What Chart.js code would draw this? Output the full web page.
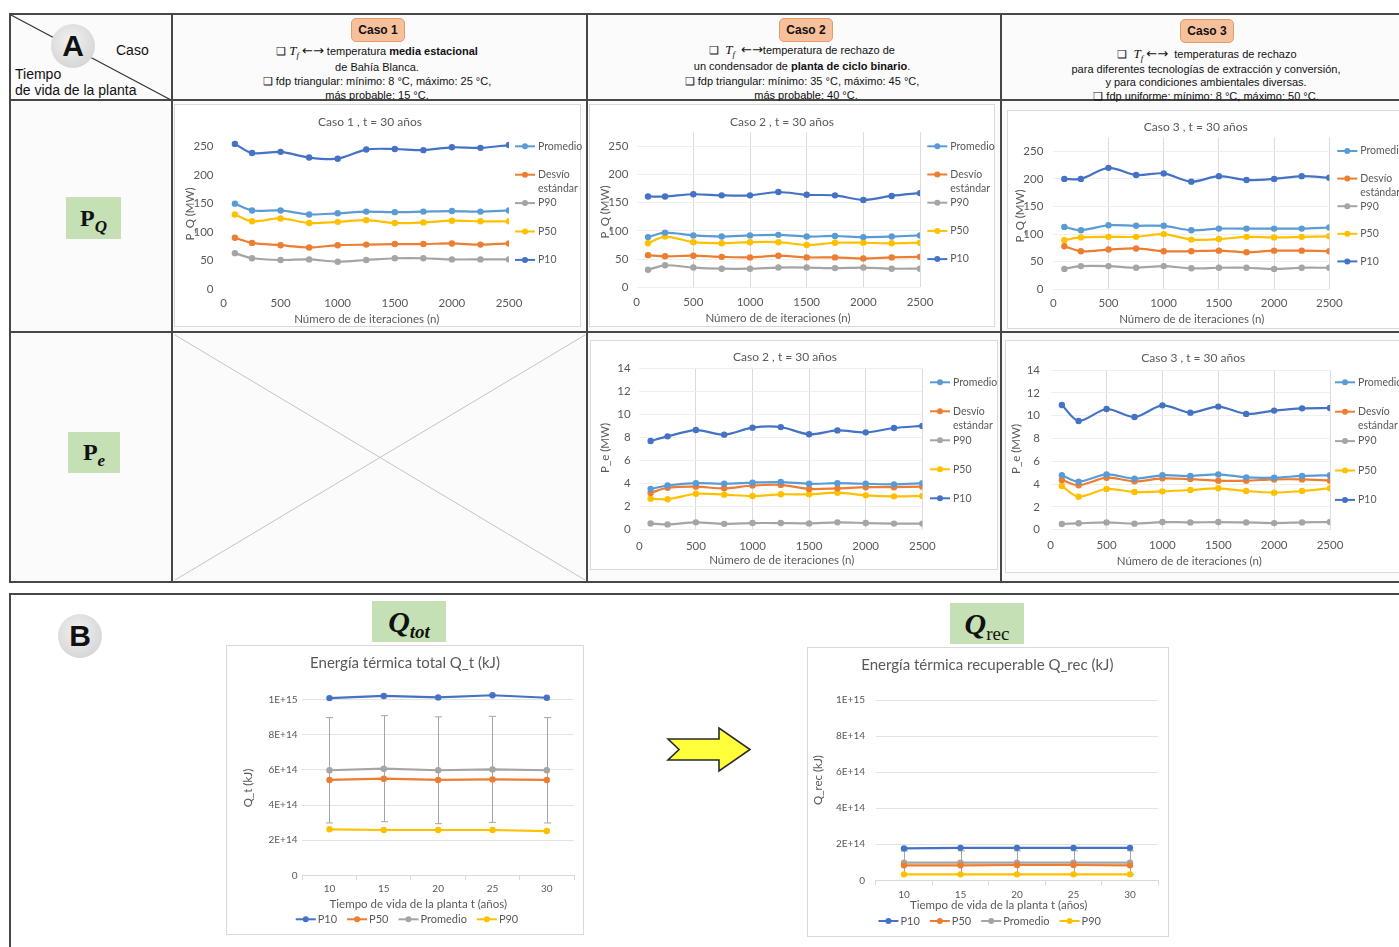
<!DOCTYPE html>
<html lang="es">
<head>
<meta charset="utf-8">
<title>Convergencia de P_Q, P_e y energía térmica</title>
<script src="https://cdn.jsdelivr.net/npm/chart.js@4.4.1/dist/chart.umd.min.js"></script>
<style>
  html, body { margin: 0; padding: 0; background: #fff; }
  body { width: 1399px; height: 947px; overflow: hidden; position: relative;
         font-family: "Liberation Sans", Arial, sans-serif; color: #111; }
  .ln { position: absolute; background: #474747; }
  .txt { position: absolute; transform: translate(-50%, -50%); white-space: nowrap; font-size: 11px; line-height: 1; }
  .lt { position: absolute; transform: translateY(-50%); white-space: nowrap; font-size: 14px; line-height: 1; }
  .m { font-family: "Liberation Serif", serif; font-style: italic; font-size: 13px; }
  .m sub { font-size: 9px; }
  .ar { font-family: "DejaVu Sans", sans-serif; font-size: 13px; line-height: 1; }
  .caso { position: absolute; width: 54px; height: 24px; box-sizing: border-box; background: #f6c09b;
          border: 1px solid #e39c6c; border-radius: 5px; font: bold 12px "Liberation Sans", Arial, sans-serif;
          display: flex; align-items: center; justify-content: center; }
  .circ { position: absolute; width: 44px; height: 44px; border-radius: 50%;
          background: radial-gradient(circle at 45% 40%, #f2f2f2, #d6d6d6 75%, #c8c8c8);
          display: flex; align-items: center; justify-content: center;
          font: bold 30px "Liberation Sans", Arial, sans-serif; color: #111; }
  .verde { position: absolute; background: #c5e0b4; display: flex; align-items: center; justify-content: center;
           font-family: "Liberation Serif", serif; color: #111; }
  .verde sub { line-height: 0; vertical-align: -0.3em; }
  .cell { position: absolute; background: #fbfbfb; }
</style>
</head>
<body>

<!-- fondo de las celdas del panel A -->
<div class="cell" style="left:10px;top:14px;width:1389px;height:568px"></div>

<!-- panel A: cuadrícula de la tabla -->
<div class="ln" style="left:10px;top:13px;width:1389px;height:2px"></div>
<div class="ln" style="left:9px;top:13px;width:2px;height:570px"></div>
<div class="ln" style="left:10px;top:99px;width:1389px;height:1.5px"></div>
<div class="ln" style="left:10px;top:331px;width:1389px;height:1.5px"></div>
<div class="ln" style="left:10px;top:581px;width:1389px;height:2px"></div>
<div class="ln" style="left:171px;top:14px;width:1.5px;height:568px"></div>
<div class="ln" style="left:586px;top:14px;width:1.5px;height:568px"></div>
<div class="ln" style="left:1000px;top:14px;width:1.5px;height:568px"></div>

<svg width="1399" height="947" style="position:absolute;left:0;top:0">
  <line x1="11" y1="15" x2="171" y2="100" stroke="#333" stroke-width="1.2"/>
  <line x1="175" y1="335" x2="585" y2="580" stroke="#c4c4c4" stroke-width="1"/>
  <line x1="585" y1="335" x2="175" y2="580" stroke="#c4c4c4" stroke-width="1"/>
  <polygon points="668,739 719,739 719,728 750,749.5 719,771 719,760 668,760 679,749.5"
           fill="#ffff3c" stroke="#2a2a2a" stroke-width="1.6" stroke-linejoin="miter"/>
</svg>

<!-- esquina: Caso / Tiempo de vida de la planta -->
<div class="circ" style="left:51px;top:24px">A</div>
<div class="lt" style="left:116px;top:50px">Caso</div>
<div class="lt" style="left:15px;top:74px">Tiempo</div>
<div class="lt" style="left:15px;top:90px">de vida de la planta</div>

<!-- encabezados de los casos -->
<div class="caso" style="left:351px;top:18px">Caso 1</div>
<div class="txt" style="left:377px;top:52px">❑ <span class="m">T<sub>f</sub></span> <span class="ar">←→</span> temperatura <b>media estacional</b></div>
<div class="txt" style="left:377px;top:67px">de Bahía Blanca.</div>
<div class="txt" style="left:377px;top:81px">❑ fdp triangular: mínimo: 8 °C, máximo: 25 °C,</div>
<div class="txt" style="left:377px;top:95px">más probable: 15 °C.</div>

<div class="caso" style="left:779px;top:18px">Caso 2</div>
<div class="txt" style="left:802px;top:51px">❑ &nbsp;<span class="m">T<sub>f</sub></span> &nbsp;<span class="ar">←→</span>temperatura de rechazo de</div>
<div class="txt" style="left:802px;top:66px">un condensador de <b>planta de ciclo binario</b>.</div>
<div class="txt" style="left:802px;top:81px">❑ fdp triangular: mínimo: 35 °C, máximo: 45 °C,</div>
<div class="txt" style="left:806px;top:95px">más probable: 40 °C.</div>

<div class="caso" style="left:1180px;top:19px">Caso 3</div>
<div class="txt" style="left:1207px;top:55px">❑ &nbsp;<span class="m">T<sub>f</sub></span> <span class="ar">←→</span> &nbsp;temperaturas de rechazo</div>
<div class="txt" style="left:1206px;top:69px">para diferentes tecnologías de extracción y conversión,</div>
<div class="txt" style="left:1206px;top:82px">y para condiciones ambientales diversas.</div>
<div class="txt" style="left:1206px;top:96px">❑ fdp uniforme: mínimo: 8 °C, máximo: 50 °C.</div>

<!-- rótulos de fila -->
<div class="verde" style="left:66px;top:197px;width:55px;height:42px;font-size:24px;font-weight:bold"><span>P<sub><i style="font-size:17px">Q</i></sub></span></div>
<div class="verde" style="left:68px;top:432px;width:52px;height:41px;font-size:24px;font-weight:bold"><span>P<sub><i style="font-size:17px">e</i></sub></span></div>

<!-- panel B -->
<div class="ln" style="left:10px;top:593px;width:1389px;height:2px"></div>
<div class="ln" style="left:9px;top:593px;width:2px;height:354px"></div>
<div class="circ" style="left:58px;top:614px">B</div>
<div class="verde" style="left:372px;top:601px;width:74px;height:41px;font-size:30px;font-weight:bold;font-style:italic"><span>Q<sub style="font-size:19px">tot</sub></span></div>
<div class="verde" style="left:950px;top:603px;width:74px;height:41px;font-size:30px;font-weight:bold"><span><i>Q</i><sub style="font-size:19px;font-weight:normal">rec</sub></span></div>

<script>
// ---------- Panel A: convergencia según número de iteraciones ----------
const iteraciones = [100, 250, 500, 750, 1000, 1250, 1500, 1750, 2000, 2250, 2500];
const ticksIteraciones = [0, 500, 1000, 1500, 2000, 2500];
const ticksPQ = [0, 50, 100, 150, 200, 250];
const ticksPe = [0, 2, 4, 6, 8, 10, 12, 14];
const etiquetasA = ['Promedio', 'Desvío estándar', 'P90', 'P50', 'P10'];
const coloresA = ['#5B9BD5', '#ED7D31', '#A5A5A5', '#FFC000', '#4472C4'];

// Caso 1, P_Q (MW)
const c1PQ_promedio = [150, 138, 138, 131, 133, 136, 135, 136, 137, 136, 138];
const c1PQ_desvio   = [90, 81, 77, 73, 77, 78, 79, 79, 80, 78, 80];
const c1PQ_p90      = [63, 54, 51, 52, 48, 51, 54, 54, 52, 52, 52];
const c1PQ_p50      = [131, 119, 124, 116, 118, 121, 116, 117, 120, 119, 119];
const c1PQ_p10      = [255, 239, 241, 231, 229, 245, 246, 244, 249, 248, 253];

// Caso 2, P_Q (MW)
const c2PQ_promedio = [89, 97, 92, 90, 92, 93, 90, 91, 89, 90, 92];
const c2PQ_desvio   = [57, 55, 56, 54, 53, 56, 53, 53, 51, 53, 54];
const c2PQ_p90      = [31, 39, 35, 33, 33, 35, 35, 34, 35, 33, 33];
const c2PQ_p50      = [78, 90, 80, 78, 80, 80, 75, 79, 79, 78, 79];
const c2PQ_p10      = [161, 161, 165, 163, 163, 169, 164, 163, 155, 162, 167];

// Caso 3, P_Q (MW)
const c3PQ_promedio = [113, 107, 116, 115, 115, 107, 110, 110, 110, 110, 112];
const c3PQ_desvio   = [78, 69, 72, 74, 69, 69, 70, 67, 70, 70, 69];
const c3PQ_p90      = [37, 42, 42, 39, 42, 38, 39, 39, 37, 39, 39];
const c3PQ_p50      = [89, 94, 95, 95, 100, 90, 91, 95, 94, 95, 96];
const c3PQ_p10      = [200, 200, 220, 207, 210, 195, 205, 198, 200, 205, 202];

// Caso 2, P_e (MW)
const c2Pe_promedio = [3.5, 3.8, 4.0, 3.95, 4.05, 4.1, 3.95, 4.0, 3.95, 3.9, 4.0];
const c2Pe_desvio   = [3.15, 3.6, 3.7, 3.55, 3.8, 3.85, 3.5, 3.55, 3.65, 3.65, 3.7];
const c2Pe_p90      = [0.49, 0.4, 0.58, 0.45, 0.52, 0.52, 0.49, 0.58, 0.52, 0.47, 0.47];
const c2Pe_p50      = [2.65, 2.6, 3.08, 3.0, 2.88, 3.03, 3.03, 3.17, 2.94, 2.85, 2.88];
const c2Pe_p10      = [7.68, 8.09, 8.64, 8.24, 8.85, 8.9, 8.27, 8.61, 8.44, 8.82, 9.0];

// Caso 3, P_e (MW)
const c3Pe_promedio = [4.77, 4.21, 4.85, 4.47, 4.77, 4.71, 4.85, 4.59, 4.56, 4.71, 4.77];
const c3Pe_desvio   = [4.36, 3.89, 4.56, 4.24, 4.5, 4.44, 4.3, 4.3, 4.41, 4.41, 4.3];
const c3Pe_p90      = [0.5, 0.56, 0.64, 0.53, 0.67, 0.64, 0.67, 0.64, 0.58, 0.64, 0.67];
const c3Pe_p50      = [3.83, 2.89, 3.57, 3.3, 3.36, 3.48, 3.63, 3.39, 3.25, 3.39, 3.63];
const c3Pe_p10      = [10.93, 9.53, 10.58, 9.88, 10.9, 10.26, 10.79, 10.15, 10.44, 10.64, 10.67];

// ---------- Panel B: energía térmica según tiempo de vida ----------
const vidaPlanta = ['10', '15', '20', '25', '30'];
const ticksQ = [0, 2e14, 4e14, 6e14, 8e14, 1e15];
const etiquetasB = ['P10', 'P50', 'Promedio', 'P90'];
const coloresB = ['#4472C4', '#ED7D31', '#A5A5A5', '#FFC000'];

const qt_p10      = [1.009e15, 1.021e15, 1.013e15, 1.025e15, 1.011e15];
const qt_p50      = [5.43e14, 5.50e14, 5.43e14, 5.46e14, 5.43e14];
const qt_promedio = [5.98e14, 6.07e14, 5.98e14, 6.03e14, 5.98e14];
const qt_p90      = [2.62e14, 2.58e14, 2.58e14, 2.58e14, 2.52e14];
const qt_errorPromedio = [3.0e14, 3.02e14, 3.04e14, 3.02e14, 3.0e14];

const qrec_p10      = [1.77e14, 1.80e14, 1.80e14, 1.80e14, 1.80e14];
const qrec_p50      = [8.3e13, 8.3e13, 8.5e13, 8.5e13, 8.3e13];
const qrec_promedio = [9.8e13, 9.8e13, 9.8e13, 9.8e13, 9.8e13];
const qrec_p90      = [3.3e13, 3.3e13, 3.3e13, 3.3e13, 3.3e13];
const qrec_errorPromedio = [6.5e13, 6.5e13, 6.5e13, 6.5e13, 6.5e13];

// ---------- estilo común ----------
const FUENTE = 'Lato, "Open Sans", sans-serif';
const TINTA = '#595959';

function formatoCientifico(v) {
  if (v === 0) return '0';
  const e = Math.floor(Math.log10(v) + 1e-9);
  const m = Math.round(v / Math.pow(10, e) * 10) / 10;
  return m + 'E+' + e;
}

// Marco blanco, títulos, leyenda y barras de error dibujados sobre el lienzo de cada gráfico
function decorado(spec) {
  const [bx, by] = spec.box;
  return {
    id: 'decorado_' + spec.id,
    beforeDraw(chart) {
      const { ctx, width, height } = chart;
      const fw = spec.frameW || width;
      ctx.save();
      ctx.fillStyle = '#fff';
      ctx.fillRect(0, 0, fw, height);
      ctx.strokeStyle = '#d9d9d9';
      ctx.lineWidth = 1;
      ctx.strokeRect(0.5, 0.5, fw - 1, height - 1);
      ctx.restore();
    },
    beforeDatasetsDraw(chart) {
      if (!spec.error) return;
      const { ctx } = chart;
      const meta = chart.getDatasetMeta(spec.error.dataset);
      const vals = chart.data.datasets[spec.error.dataset].data;
      const ys = chart.scales.y;
      ctx.save();
      ctx.strokeStyle = '#A5A5A5';
      ctx.lineWidth = 1;
      meta.data.forEach((pt, i) => {
        const x = Math.round(pt.x) + 0.5;
        const top = ys.getPixelForValue(vals[i] + spec.error.values[i]);
        const bot = ys.getPixelForValue(vals[i] - spec.error.values[i]);
        ctx.beginPath();
        ctx.moveTo(x, top); ctx.lineTo(x, bot);
        ctx.moveTo(x - 3.5, top); ctx.lineTo(x + 3.5, top);
        ctx.moveTo(x - 3.5, bot); ctx.lineTo(x + 3.5, bot);
        ctx.stroke();
      });
      ctx.restore();
    },
    afterDraw(chart) {
      const { ctx } = chart;
      const f = spec.fonts;
      ctx.save();
      ctx.fillStyle = TINTA;
      ctx.textAlign = 'center';
      ctx.textBaseline = 'middle';
      ctx.font = f.title + 'px ' + FUENTE;
      ctx.fillText(spec.title[0], spec.title[1] - bx, spec.title[2] - by);
      ctx.font = f.axis + 'px ' + FUENTE;
      ctx.fillText(spec.xTitle[0], spec.xTitle[1] - bx, spec.xTitle[2] - by);
      ctx.save();
      ctx.translate(spec.yTitle[1] - bx, spec.yTitle[2] - by);
      ctx.rotate(-Math.PI / 2);
      ctx.fillText(spec.yTitle[0], 0, 0);
      ctx.restore();

      // leyenda: trazo corto con marcador y rótulo
      ctx.font = f.key + 'px ' + FUENTE;
      ctx.textAlign = 'left';
      const muestra = (x, y, color) => {
        ctx.strokeStyle = color;
        ctx.lineWidth = 2;
        ctx.beginPath(); ctx.moveTo(x, y); ctx.lineTo(x + 20, y); ctx.stroke();
        ctx.fillStyle = color;
        ctx.beginPath(); ctx.arc(x + 10, y, 3, 0, Math.PI * 2); ctx.fill();
      };
      const ds = chart.data.datasets;
      if (spec.key.mode === 'columna') {
        const x = spec.key.x - bx;
        ds.forEach((d, i) => {
          const y = spec.key.y - by + i * spec.key.step;
          muestra(x, y, d.borderColor);
          ctx.fillStyle = TINTA;
          const lineas = d.label === 'Desvío estándar' ? ['Desvío', 'estándar'] : [d.label];
          lineas.forEach((t, k) => ctx.fillText(t, x + 23, y + k * 14));
        });
      } else {
        const anchos = ds.map(d => 22 + ctx.measureText(d.label).width);
        const total = anchos.reduce((a, b) => a + b, 0) + 10 * (ds.length - 1);
        let x = spec.key.cx - bx - total / 2;
        const y = spec.key.y - by;
        ds.forEach((d, i) => {
          muestra(x, y, d.borderColor);
          ctx.fillStyle = TINTA;
          ctx.fillText(d.label, x + 22, y);
          x += anchos[i] + 10;
        });
      }
      ctx.restore();
    }
  };
}

function crearGrafico(spec) {
  const [bx, by, bw, bh] = spec.box;
  const p = spec.plot;
  const cv = document.createElement('canvas');
  cv.width = bw; cv.height = bh;
  cv.style.cssText = 'position:absolute;left:' + bx + 'px;top:' + by + 'px;width:' + bw + 'px;height:' + bh + 'px';
  document.body.appendChild(cv);

  // el eje Y ocupa todo el margen izquierdo, el eje X deja sitio a sus rótulos
  const anchoEjeY = Math.min(p.L - bx - 2, 70);
  const altoEjeX = Math.max(20, spec.xLabelY - p.B + 12);

  const categorias = !!spec.labels;
  const datasets = spec.series.map((vals, i) => ({
    label: spec.names[i],
    data: categorias ? vals : iteraciones.map((x, k) => ({ x: x, y: vals[k] })),
    borderColor: spec.colors[i],
    backgroundColor: spec.colors[i],
    borderWidth: 2.2,
    pointRadius: 3.2,
    pointHoverRadius: 3.2,
    pointBorderWidth: 0,
    tension: categorias ? 0 : 0.3,
    fill: false
  }));

  const tickFont = { family: FUENTE, size: spec.fonts.tick };
  const tl = categorias ? 5 : 0;
  const xScale = categorias ? {
    type: 'category',
    offset: true,
    grid: { offset: true, drawOnChartArea: false, drawTicks: true, tickLength: 5, color: '#d9d9d9' },
    border: { display: true, color: '#d9d9d9' },
    ticks: { color: TINTA, font: tickFont, padding: spec.xLabelY - p.B - tl - 0.6 * spec.fonts.tick, maxRotation: 0 },
    afterFit: s => { s.height = altoEjeX; }
  } : {
    type: 'linear', min: 0, max: 2500,
    afterBuildTicks: s => { s.ticks = ticksIteraciones.map(v => ({ value: v })); },
    grid: { display: spec.grid, drawTicks: false,
            color: c => (c.tick && c.tick.value === 0) ? 'rgba(0,0,0,0)' : '#dcdcdc' },
    border: { display: false },
    ticks: { color: TINTA, font: tickFont, padding: spec.xLabelY - p.B - 0.6 * spec.fonts.tick,
             maxRotation: 0, autoSkip: false, callback: v => String(v) },
    afterFit: s => { s.height = altoEjeX; }
  };
  const yScale = {
    min: 0, max: spec.ymax,
    afterBuildTicks: s => { s.ticks = spec.yticks.map(v => ({ value: v })); },
    grid: { display: spec.grid || categorias, drawTicks: false, color: categorias ? '#e3e3e3' : '#efefef' },
    border: { display: false },
    ticks: { color: TINTA, font: tickFont, padding: p.L - spec.yLabelRight,
             callback: categorias ? (v => formatoCientifico(v)) : (v => String(v)) },
    afterFit: s => { s.width = anchoEjeY; }
  };

  return new Chart(cv, {
    type: 'line',
    data: categorias ? { labels: spec.labels, datasets } : { datasets },
    options: {
      responsive: false,
      animation: false,
      events: [],
      layout: { padding: { left: p.L - bx - anchoEjeY, top: p.T - by, right: bx + bw - p.R, bottom: by + bh - p.B - altoEjeX } },
      plugins: { legend: { display: false }, title: { display: false }, tooltip: { enabled: false } },
      scales: { x: xScale, y: yScale }
    },
    plugins: [decorado(spec)]
  });
}

const fuentesA = { tick: 11.5, title: 12, axis: 11.5, key: 10.5 };
const fuentesB = { tick: 10, title: 15, axis: 11.5, key: 11 };
const ejeX = 'Número de de iteraciones (n)';
const ejeXB = 'Tiempo de vida de la planta t (años)';

const graficos = [
  { id: 'c1pq', box: [174, 104, 411, 223], frameW: 407, plot: { L: 223.5, R: 509, T: 132.5, B: 289 },
    ymax: 275, yticks: ticksPQ, grid: false, yLabelRight: 213.5, xLabelY: 303.3,
    title: ['Caso 1 , t = 30 años', 370, 121.7], xTitle: [ejeX, 366.7, 319.3], yTitle: ['P_Q (MW)', 190, 214],
    key: { mode: 'columna', x: 515, y: 146.3, step: 28.4 },
    names: etiquetasA, colors: coloresA, fonts: fuentesA,
    series: [c1PQ_promedio, c1PQ_desvio, c1PQ_p90, c1PQ_p50, c1PQ_p10] },
  { id: 'c2pq', box: [589, 104, 406, 223], plot: { L: 636.7, R: 920, T: 132.2, B: 287.3 },
    ymax: 275, yticks: ticksPQ, grid: true, yLabelRight: 628.3, xLabelY: 302.3,
    title: ['Caso 2 , t = 30 años', 782, 121.7], xTitle: [ejeX, 778, 318.3], yTitle: ['P_Q (MW)', 605.7, 212],
    key: { mode: 'columna', x: 927.3, y: 146.3, step: 28.2 },
    names: etiquetasA, colors: coloresA, fonts: fuentesA,
    series: [c2PQ_promedio, c2PQ_desvio, c2PQ_p90, c2PQ_p50, c2PQ_p10] },
  { id: 'c3pq', box: [1007, 110, 412, 219], plot: { L: 1053.3, R: 1329.3, T: 137.5, B: 289.3 },
    ymax: 275, yticks: ticksPQ, grid: true, yLabelRight: 1043.3, xLabelY: 303.3,
    title: ['Caso 3 , t = 30 años', 1195.7, 126.7], xTitle: [ejeX, 1191.7, 319], yTitle: ['P_Q (MW)', 1020, 216],
    key: { mode: 'columna', x: 1337.3, y: 151, step: 27.6 },
    names: etiquetasA, colors: coloresA, fonts: fuentesA,
    series: [c3PQ_promedio, c3PQ_desvio, c3PQ_p90, c3PQ_p50, c3PQ_p10] },
  { id: 'c2pe', box: [590, 340, 408, 230], plot: { L: 639.3, R: 922.3, T: 368.7, B: 529 },
    ymax: 14, yticks: ticksPe, grid: true, yLabelRight: 630.7, xLabelY: 546,
    title: ['Caso 2 , t = 30 años', 785, 356.7], xTitle: [ejeX, 781.7, 560], yTitle: ['P_e (MW)', 605.7, 448],
    key: { mode: 'columna', x: 930, y: 382.3, step: 29 },
    names: etiquetasA, colors: coloresA, fonts: fuentesA,
    series: [c2Pe_promedio, c2Pe_desvio, c2Pe_p90, c2Pe_p50, c2Pe_p10] },
  { id: 'c3pe', box: [1005, 340, 412, 233], plot: { L: 1050.7, R: 1330, T: 370, B: 529.7 },
    ymax: 14, yticks: ticksPe, grid: true, yLabelRight: 1040, xLabelY: 545,
    title: ['Caso 3 , t = 30 años', 1193.3, 358.3], xTitle: [ejeX, 1189.3, 561.7], yTitle: ['P_e (MW)', 1016.7, 449],
    key: { mode: 'columna', x: 1335, y: 382.3, step: 29.4 },
    names: etiquetasA, colors: coloresA, fonts: fuentesA,
    series: [c3Pe_promedio, c3Pe_desvio, c3Pe_p90, c3Pe_p50, c3Pe_p10] },
  { id: 'qtot', box: [226, 645, 358, 290], plot: { L: 302.3, R: 574, T: 682.1, B: 875.3 },
    labels: vidaPlanta, ymax: 1.1e15, yticks: ticksQ, grid: true, yLabelRight: 297.5, xLabelY: 889,
    title: ['Energía térmica total Q_t (kJ)', 405, 663], xTitle: [ejeXB, 418.3, 904], yTitle: ['Q_t (kJ)', 248.3, 788],
    key: { mode: 'fila', cx: 407, y: 919.3 },
    names: etiquetasB, colors: coloresB, fonts: fuentesB,
    error: { dataset: 2, values: qt_errorPromedio },
    series: [qt_p10, qt_p50, qt_promedio, qt_p90] },
  { id: 'qrec', box: [807, 647, 362, 290], plot: { L: 875.75, R: 1158.25, T: 682, B: 880.3 },
    labels: vidaPlanta, ymax: 1.1e15, yticks: ticksQ, grid: true, yLabelRight: 865, xLabelY: 895,
    title: ['Energía térmica recuperable Q_rec (kJ)', 987.3, 665], xTitle: [ejeXB, 998.7, 905.7], yTitle: ['Q_rec (kJ)', 818.3, 780],
    key: { mode: 'fila', cx: 989.7, y: 921 },
    names: etiquetasB, colors: coloresB, fonts: fuentesB,
    error: { dataset: 2, values: qrec_errorPromedio },
    series: [qrec_p10, qrec_p50, qrec_promedio, qrec_p90] }
];

graficos.forEach(crearGrafico);
</script>
</body>
</html>
